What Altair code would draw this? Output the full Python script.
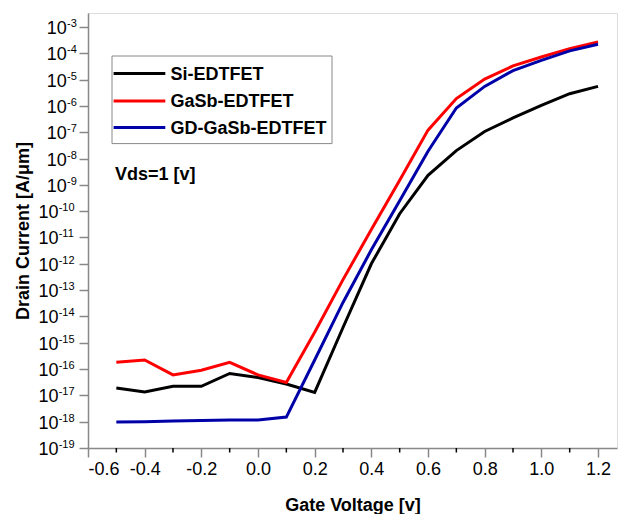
import altair as alt
import pandas as pd

# Gate voltage sweep (V)
gate_voltage = [-0.5, -0.4, -0.3, -0.2, -0.1, 0.0, 0.1, 0.2, 0.3,
                0.4, 0.5, 0.6, 0.7, 0.8, 0.9, 1.0, 1.1, 1.2]

# Drain current (A/um) for each device
si_edtfet = [1.9e-17, 1.35e-17, 2.2e-17, 2.2e-17, 6.8e-17, 4.8e-17, 2.7e-17, 1.3e-17, 3.8e-15,
             1.0e-12, 8.0e-11, 2.3e-9, 2.0e-8, 1.07e-7, 3.5e-7, 1.05e-6, 2.9e-6, 5.5e-6]
gasb_edtfet = [1.8e-16, 2.2e-16, 6.0e-17, 9.0e-17, 1.8e-16, 6.0e-17, 3.1e-17, 2.5e-15, 2.5e-13,
               2.0e-11, 1.5e-9, 1.2e-7, 1.9e-6, 1.05e-5, 3.3e-5, 7.2e-5, 1.5e-4, 2.7e-4]
gd_gasb_edtfet = [9.8e-19, 1.0e-18, 1.07e-18, 1.1e-18, 1.15e-18, 1.17e-18, 1.5e-18, 2.2e-16, 3.4e-14,
                  3.4e-12, 2.5e-10, 1.9e-8, 8.3e-7, 5.5e-6, 2.2e-5, 5.4e-5, 1.23e-4, 2.2e-4]

series_names = ["Si-EDTFET", "GaSb-EDTFET", "GD-GaSb-EDTFET"]
series_colors = ["#000000", "#FF0000", "#0000A8"]

x_major_ticks = [-0.6, -0.4, -0.2, 0.0, 0.2, 0.4, 0.6, 0.8, 1.0, 1.2]
x_minor_ticks = [-0.5, -0.3, -0.1, 0.1, 0.3, 0.5, 0.7, 0.9, 1.1]
y_exponents = list(range(-3, -20, -1))

FONT = "Liberation Sans"
W, H = 529, 435

rows = []
for name, vals in zip(series_names, [si_edtfet, gasb_edtfet, gd_gasb_edtfet]):
    for v, i in zip(gate_voltage, vals):
        rows.append({"Vg": v, "Id": i, "device": name})
df = pd.DataFrame(rows)

x_scale = alt.Scale(domain=[-0.6, 1.267], nice=False, zero=False)
y_scale = alt.Scale(type="log", domain=[1e-19, 10 ** -2.47], nice=False)

lines = alt.Chart(df).mark_line(strokeWidth=3, clip=True).encode(
    x=alt.X("Vg:Q", scale=x_scale,
            axis=alt.Axis(values=x_major_ticks, title="Gate Voltage [v]",
                          labelExpr="(datum.value < 0 ? '-' : '') + format(abs(datum.value), '.1f')",
                          tickSize=9, tickWidth=1.5, domainWidth=1.5,
                          labelFontSize=18, labelPadding=3, grid=False,
                          titleFontSize=18, titleFontWeight="bold",
                          titleX=W / 2, titleY=62, titleBaseline="alphabetic")),
    y=alt.Y("Id:Q", scale=y_scale,
            axis=alt.Axis(values=[10.0 ** e for e in y_exponents], labels=False,
                          tickSize=9, tickWidth=1.5, domainWidth=1.5, grid=False,
                          title="Drain Current [A/\u03bcm]", titleFontSize=18,
                          titleFontWeight="bold", titleAngle=270,
                          titleX=-65, titleY=H / 2, titleAlign="center",
                          titleBaseline="middle")),
    color=alt.Color("device:N", scale=alt.Scale(domain=series_names, range=series_colors),
                    legend=None),
    detail="device:N",
)

# minor ticks on the x axis
minor = alt.Chart(pd.DataFrame({"Vg": x_minor_ticks})).mark_rule(
    color="black", strokeWidth=1.5).encode(
    x=alt.X("Vg:Q", scale=x_scale), y=alt.value(H), y2=alt.value(H + 4.5))

# y tick labels written as 10 with a raised exponent
ylab = pd.DataFrame({"v": [10.0 ** e for e in y_exponents],
                     "base": ["10"] * len(y_exponents),
                     "exp": [str(e) for e in y_exponents],
                     "two": [abs(e) >= 10 for e in y_exponents]})

def tick_labels(two_digit, base_x, exp_x):
    src = alt.Chart(ylab).transform_filter(
        alt.datum.two if two_digit else ~alt.datum.two)
    base = src.mark_text(align="right", baseline="middle", fontSize=18, font=FONT,
                         color="black", dy=2).encode(
        x=alt.value(base_x), y=alt.Y("v:Q", scale=y_scale), text="base:N")
    exp = src.mark_text(align="left", baseline="middle", fontSize=11, font=FONT,
                        color="black", dy=-3).encode(
        x=alt.value(exp_x), y=alt.Y("v:Q", scale=y_scale), text="exp:N")
    return base + exp

labels1 = tick_labels(False, -21.2, -21.0)
labels2 = tick_labels(True, -29.5, -29.3)

# legend box
legend_box = alt.Chart(pd.DataFrame({"a": [0]})).mark_rect(
    fill="white", stroke="#888888", strokeWidth=1).encode(
    x=alt.value(24), x2=alt.value(244), y=alt.value(43), y2=alt.value(130.6))

legend_layers = []
row_y = [60.6, 88.0, 114.6]
for name, col, yy in zip(series_names, series_colors, row_y):
    d = pd.DataFrame({"label": [name]})
    legend_layers.append(alt.Chart(d).mark_rule(color=col, strokeWidth=3).encode(
        x=alt.value(25.6), x2=alt.value(77.3), y=alt.value(yy)))
    legend_layers.append(alt.Chart(d).mark_text(
        align="left", baseline="middle", fontSize=18, fontWeight="bold", font=FONT,
        color="black").encode(x=alt.value(82.5), y=alt.value(yy + 1), text="label:N"))

note = alt.Chart(pd.DataFrame({"t": ["Vds=1 [v]"]})).mark_text(
    align="left", baseline="middle", fontSize=18, fontWeight="bold", font=FONT,
    color="black").encode(x=alt.value(27), y=alt.value(162), text="t:N")

chart = alt.layer(lines, minor, labels1, labels2, legend_box, *legend_layers, note).properties(
    width=W, height=H,
    autosize=alt.AutoSizeParams(type="none"),
    padding={"left": 88, "top": 13, "right": 2, "bottom": 66},
).configure_view(stroke="#333333", strokeWidth=1.5).configure_axis(
    labelFont=FONT, titleFont=FONT, labelColor="black", titleColor="black",
    domainColor="black", tickColor="black",
).configure(background="white")

chart.save("out.html", embed_options={"renderer": "svg", "actions": False})
